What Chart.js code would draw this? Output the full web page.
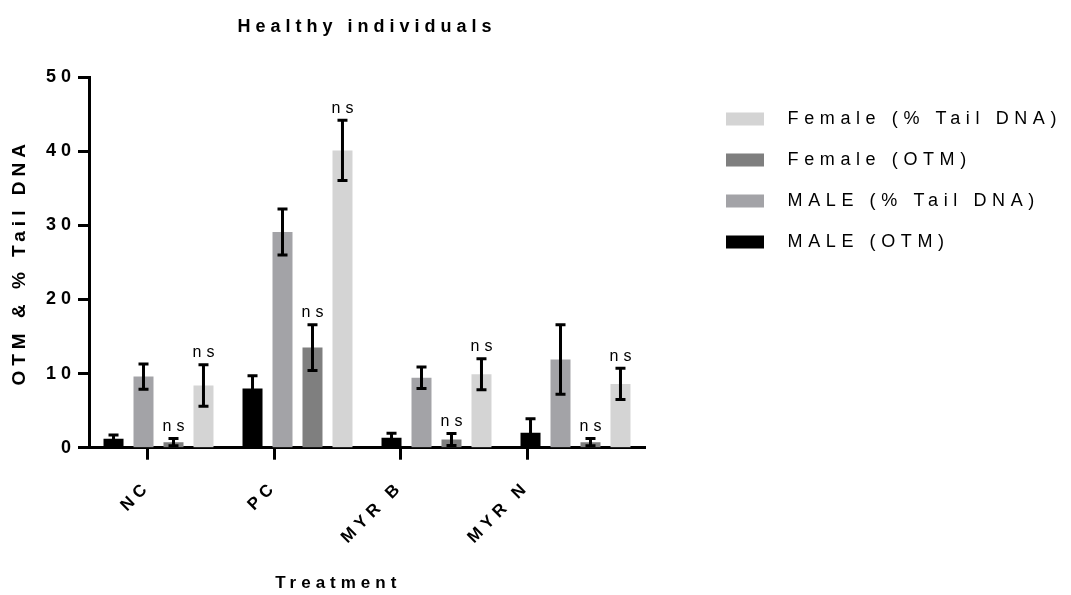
<!DOCTYPE html>
<html>
<head>
<meta charset="utf-8">
<script src="https://cdn.jsdelivr.net/npm/chart.js@4/dist/chart.umd.min.js"></script>
<style>
  html, body { margin: 0; padding: 0; background: #fff; }
  #wrap { width: 1071px; height: 595px; }
</style>
</head>
<body>
<div id="wrap"><canvas id="comet" width="1071" height="595"></canvas></div>
<script>
// data (mean and SEM)
const categories = ['NC', 'PC', 'MYR B', 'MYR N'];

const maleOtm = [1.2, 8.0, 1.35, 2.0];
const maleOtmErr = [0.5, 1.7, 0.6, 1.9];
const maleTail = [9.6, 29.1, 9.45, 11.9];
const maleTailErr = [1.7, 3.1, 1.45, 4.7];
const femaleOtm = [0.75, 13.5, 1.1, 0.75];
const femaleOtmErr = [0.5, 3.1, 0.8, 0.5];
const femaleTail = [8.4, 40.1, 9.9, 8.6];
const femaleTailErr = [2.8, 4.05, 2.1, 2.1];

const yTicks = [0, 10, 20, 30, 40, 50];

Chart.defaults.font.family = "'Liberation Sans', Arial, sans-serif";
Chart.defaults.color = '#000';

// prism style wide letter spacing on every text
const spacing = {
    id: 'spacing',
    beforeUpdate(chart) {
        chart.ctx.letterSpacing = '5px';
        // measureText ignores the spacing, so give the legend a fixed width
        const lg = chart.legend;
        if (lg && !lg._fixedWidth) {
            const fit = lg.fit;
            lg.fit = function () { fit.call(this); this.width = 368; };
            const draw = lg.draw;
            lg.draw = function () {
                this.ctx.letterSpacing = '5.6px';
                draw.call(this);
                this.ctx.letterSpacing = '5px';
            };
            lg._fixedWidth = true;
        }
    },
    beforeDraw(chart) { chart.ctx.letterSpacing = '5px'; }
};

// error bars + "ns" labels
const errorBars = {
    id: 'errorBars',
    afterDatasetsDraw(chart) {
        const ctx = chart.ctx;
        const y = chart.scales.y;
        ctx.save();
        ctx.letterSpacing = '5px';
        chart.data.datasets.forEach((ds, i) => {
            const meta = chart.getDatasetMeta(i);
            meta.data.forEach((bar, j) => {
                const v = ds.data[j], e = ds.err[j];
                const top = y.getPixelForValue(v + e);
                const bot = y.getPixelForValue(v - e);
                ctx.strokeStyle = '#000';
                ctx.lineWidth = 3;
                ctx.beginPath();
                ctx.moveTo(bar.x, top); ctx.lineTo(bar.x, bot);
                ctx.moveTo(bar.x - 5, top); ctx.lineTo(bar.x + 5, top);
                ctx.moveTo(bar.x - 5, bot); ctx.lineTo(bar.x + 5, bot);
                ctx.stroke();
                if (ds.ns) {
                    ctx.font = "16px 'Liberation Sans', Arial, sans-serif";
                    ctx.fillStyle = '#000';
                    ctx.textAlign = 'center';
                    ctx.textBaseline = 'bottom';
                    ctx.fillText('ns', bar.x + 2.5, top - 4);
                }
            });
        });
        ctx.restore();
    }
};

new Chart(document.getElementById('comet'), {
    type: 'bar',
    data: {
        labels: categories,
        datasets: [
            { label: 'MALE (OTM)', data: maleOtm, err: maleOtmErr, backgroundColor: '#000000' },
            { label: 'MALE (% Tail DNA)', data: maleTail, err: maleTailErr, backgroundColor: '#a3a3a7' },
            { label: 'Female (OTM)', data: femaleOtm, err: femaleOtmErr, backgroundColor: '#7f7f7f', ns: true },
            { label: 'Female (% Tail DNA)', data: femaleTail, err: femaleTailErr, backgroundColor: '#d4d4d4', ns: true }
        ]
    },
    options: {
        responsive: false,
        animation: false,
        layout: { padding: { top: 0, left: 0, right: 0, bottom: 0 } },
        datasets: {
            bar: { categoryPercentage: 0.863, barPercentage: 0.667, borderWidth: 0 }
        },
        plugins: {
            title: {
                display: true,
                text: 'Healthy individuals',
                fullSize: false,
                font: { size: 18, weight: 'bold' },
                padding: { top: 16, bottom: 39.4 }
            },
            legend: {
                position: 'right',
                align: 'start',
                fullSize: false,
                reverse: true,
                title: { display: true, text: ' ', font: { size: 5 }, padding: { top: 0, bottom: 4 } },
                labels: {
                    boxWidth: 38,
                    boxHeight: 13,
                    padding: 23,
                    font: { size: 18 },
                    generateLabels(chart) {
                        return Chart.defaults.plugins.legend.labels.generateLabels(chart)
                            .map(item => ({ ...item, text: '\u2002' + item.text }));
                    }
                }
            },
            tooltip: { enabled: false }
        },
        scales: {
            x: { display: false },
            xt: {
                type: 'linear',
                position: 'bottom',
                offset: false,
                min: -0.467,
                max: 3.934,
                afterBuildTicks(s) { s.ticks = categories.map((c, i) => ({ value: i })); },
                afterFit(s) { s.height = 147.3; },
                grid: { offset: false, drawOnChartArea: false, tickLength: 12, tickWidth: 3, tickColor: '#000' },
                border: { display: true, width: 3, color: '#000' },
                ticks: {
                    autoSkip: false,
                    minRotation: 45,
                    maxRotation: 45,
                    padding: 17,
                    font: { size: 17, weight: 'bold' },
                    callback: v => categories[v]
                },
                title: {
                    display: true,
                    text: 'Treatment\u2003\u2003\u2002',
                    font: { size: 17, weight: 'bold' },
                    padding: { top: 4, bottom: 1 }
                }
            },
            y: {
                min: 0,
                max: 50,
                afterBuildTicks(s) { s.ticks = yTicks.map(v => ({ value: v })); },
                afterFit(s) { s.width = 89; },
                grid: { drawOnChartArea: false, tickLength: 11, tickWidth: 3, tickColor: '#000' },
                border: { display: true, width: 3, color: '#000' },
                ticks: { padding: 2, font: { size: 18, weight: 'bold' } },
                title: {
                    display: true,
                    text: 'OTM & % Tail DNA',
                    font: { size: 19, weight: 'bold' },
                    padding: { top: 8.6, bottom: 0 }
                }
            },
            gap: {
                type: 'linear',
                position: 'right',
                grid: { display: false },
                border: { display: false },
                ticks: { display: false },
                afterFit(s) { s.width = 58; }
            }
        }
    },
    plugins: [spacing, errorBars]
});
</script>
</body>
</html>
